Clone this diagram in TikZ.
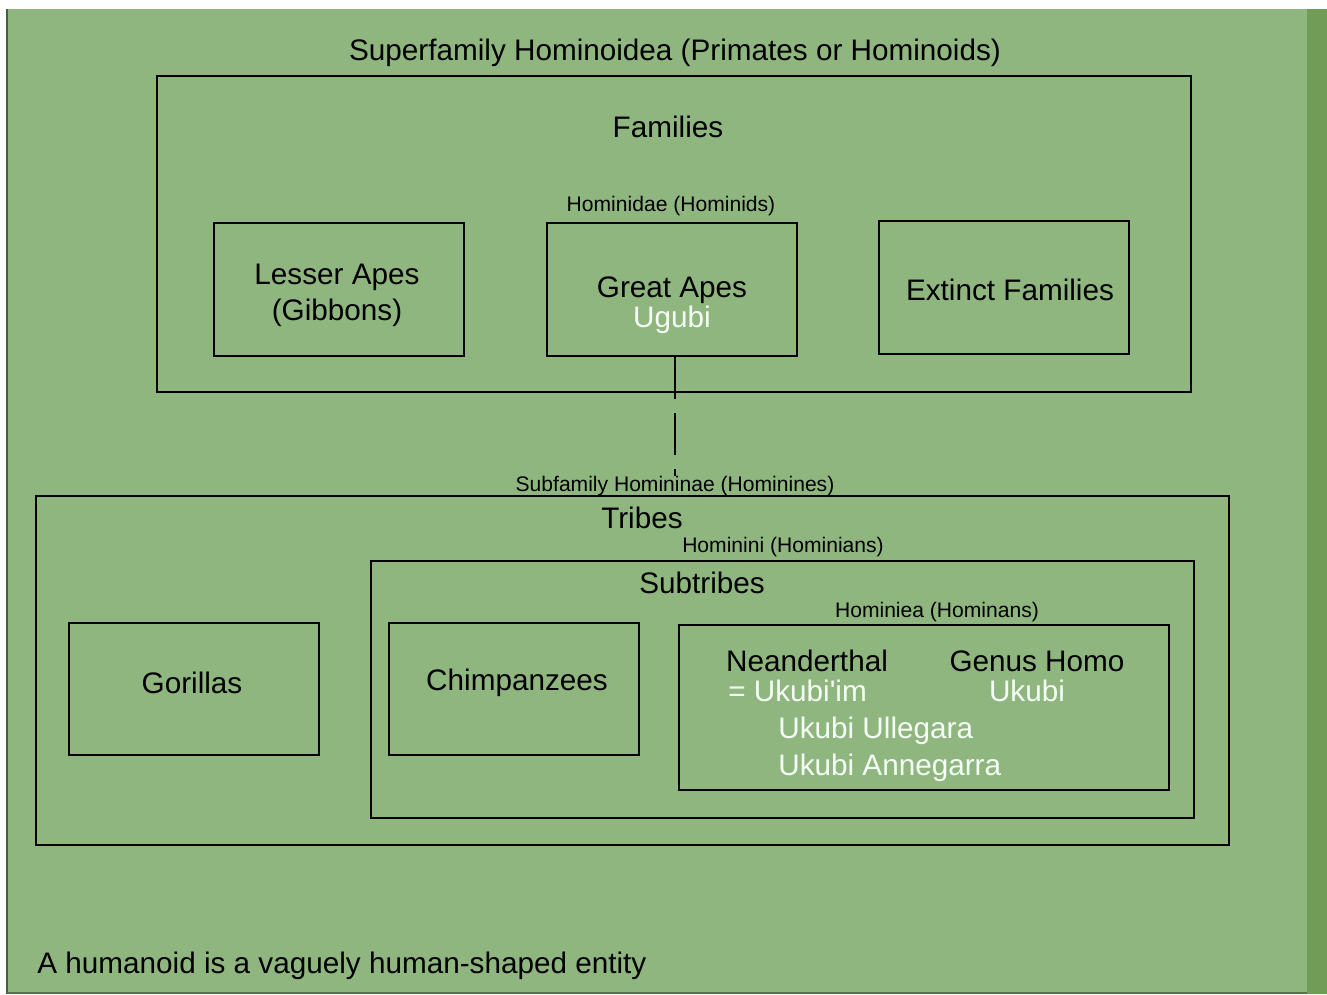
\documentclass[tikz,border=0pt]{standalone}
\usepackage{fontspec}
\setmainfont{Liberation Sans}
\newfontfamily\straight{Liberation Sans}
\usetikzlibrary{fit}
\definecolor{grass}{RGB}{144,182,128}
\definecolor{darkgrass}{RGB}{112,156,88}
\definecolor{edgegrass}{RGB}{70,95,60}
\begin{document}
\begin{tikzpicture}[x=0.02cm, y=-0.02cm,
  box/.style={draw=black, line width=1.1pt, inner sep=0pt, fit={#1}},
  big/.style={inner sep=0pt, yshift=-2.2pt, text height=0.716em, text depth=0pt, font=\fontsize{16.9}{20}\selectfont},
  small/.style={inner sep=0pt, yshift=-1.1pt, text height=0.716em, text depth=0pt, font=\fontsize{12}{14}\selectfont},
  light/.style={big, text=white!96!green}]
\useasboundingbox (0,0) rectangle (1327,994);
% background
\fill[grass] (7,9) rectangle (1327,994);
\fill[darkgrass] (1307,9) rectangle (1327,994);
\draw[edgegrass, line width=1pt] (7,9) -- (7,994);
\draw[edgegrass!80!grass, line width=1.5pt] (7,993) -- (1307,993);
% superfamily
\node[big] (title) at (675,50) {Superfamily Hominoidea (Primates or Hominoids)};
\node[box={(157,76) (1191,392)}] (families) {};
\node[big] (famtitle) at (668,127) {Families};
\node[small] (hominidae) at (671,203) {Hominidae (Hominids)};
\node[box={(214,223) (464,356)}] (lesser) {};
\node[big] (lesser1) at (337,274) {Lesser Apes};
\node[big] (lesser2) at (337,310) {(Gibbons)};
\node[box={(547,223) (797,356)}] (great) {};
\node[big] (great1) at (672,287) {Great Apes};
\node[light] (great2) at (672,317) {Ugubi};
\node[box={(879,221) (1129,354)}] (extinct) {};
\node[big] (extinct1) at (1010,290) {Extinct Families};
% subfamily
\node[small] (subfam) at (675,483) {Subfamily Homininae (Hominines)};
\draw[line width=1.1pt, dash pattern=on 24pt off 8pt] (great.south -| subfam.north) -- ([yshift=1.5pt]subfam.north);
\node[box={(36,496) (1229,845)}] (tribes) {};
\node[big] (tribestitle) at (642,518) {Tribes};
\node[small] (hominini) at (783,544) {Hominini (Hominians)};
\node[box={(69,623) (319,755)}] (gorillas) {};
\node[big] (gorillas1) at (192,683) {Gorillas};
\node[box={(371,561) (1194,818)}] (subtribes) {};
\node[big] (subtitle) at (702,583) {Subtribes};
\node[small] (hominiea) at (937,609) {Hominiea (Hominans)};
\node[box={(389,623) (639,755)}] (chimps) {};
\node[big] (chimps1) at (517,680) {Chimpanzees};
\node[box={(679,625) (1169,790)}] (homo) {};
\node[big] (nean) at (807,661) {Neanderthal};
\node[light, anchor=west] (nean2) at (728,691) {= Ukubi{\straight '}im};
\node[big] (genus) at (1037,661) {Genus Homo};
\node[light] (genus2) at (1027,691) {Ukubi};
\node[light, anchor=west] (ulle) at (778,728) {Ukubi Ullegara};
\node[light, anchor=west] (anne) at (778,765) {Ukubi Annegarra};
% footer
\node[big, anchor=west] (footer) at (37,963) {A humanoid is a vaguely human-shaped entity};
\end{tikzpicture}
\end{document}
